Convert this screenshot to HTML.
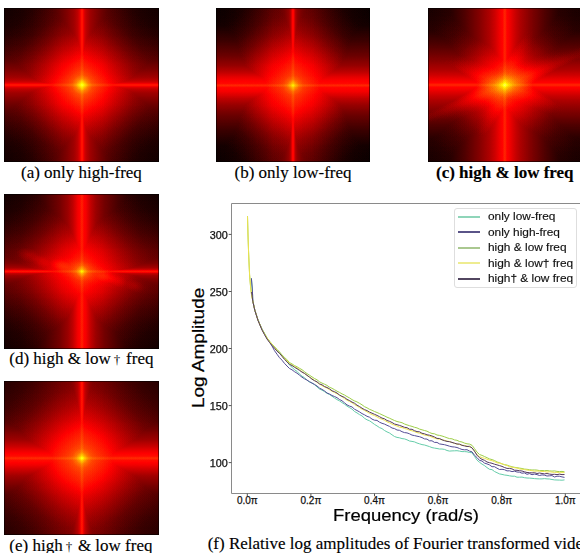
<!DOCTYPE html><html><head><meta charset="utf-8"><style>
*{margin:0;padding:0;box-sizing:border-box}
html,body{width:580px;height:553px;overflow:hidden;background:#fff}
body{position:relative}
.hm{position:absolute;overflow:hidden;background:#000}
.hm::after{content:'';position:absolute;inset:0;box-shadow:inset 0 0 0 1px rgba(0,0,0,0.55)}
.fld{position:absolute;inset:0;filter:url(#hot);isolation:isolate;background:#000}
.l{position:absolute;inset:0;mix-blend-mode:screen;mix-blend-mode:plus-lighter}
.nat{position:absolute;inset:0;isolation:isolate}
.m{position:absolute;inset:0;mix-blend-mode:lighten}
.cap{position:absolute;font-family:"Liberation Serif",serif;font-size:17px;color:#000;-webkit-text-stroke:0.15px #000;white-space:nowrap;line-height:19px}
.dg{font-size:13px;margin:0 1.5px 0 3px;-webkit-text-stroke:0}
.tk{position:absolute;font-family:"Liberation Sans",sans-serif;font-size:10px;color:#111;-webkit-text-stroke:0.25px #111;white-space:nowrap;line-height:12px}
.lg{position:absolute;font-family:"Liberation Sans",sans-serif;font-size:11px;color:#111;-webkit-text-stroke:0.15px #111;white-space:nowrap;line-height:12px;transform-origin:0 50%;transform:scaleX(1.08)}
</style></head><body>
<svg width="0" height="0" style="position:absolute"><defs>
<filter id="hot" color-interpolation-filters="sRGB" x="0" y="0" width="100%" height="100%">
<feComponentTransfer>
<feFuncR type="table" tableValues="0 0.3333 0.6667 1 1 1 1 1 1"/>
<feFuncG type="table" tableValues="0 0 0 0 0.3333 0.6667 1 1 1"/>
<feFuncB type="table" tableValues="0 0 0 0 0 0 0 0.5 1"/>
</feComponentTransfer>
</filter></defs></svg>
<div class="hm" style="left:4px;top:8px;width:155px;height:153.5px">
<div class="fld"><div class="nat" style="background:rgb(7,7,7)">
<div class="l" style="background:linear-gradient(to bottom, rgb(0,0,0) -3.00px, rgb(1,1,1) 7.00px, rgb(3,3,3) 17.00px, rgb(7,7,7) 27.00px, rgb(13,13,13) 37.00px, rgb(20,20,20) 47.00px, rgb(28,28,28) 57.00px, rgb(33,33,33) 67.00px, rgb(37,37,37) 72.00px, rgb(40,40,40) 77.00px, rgb(37,37,37) 82.00px, rgb(33,33,33) 87.00px, rgb(28,28,28) 97.00px, rgb(20,20,20) 107.00px, rgb(13,13,13) 117.00px, rgb(7,7,7) 127.00px, rgb(3,3,3) 137.00px, rgb(1,1,1) 147.00px, rgb(0,0,0) 157.00px)"></div>
<div class="l" style="background:linear-gradient(to right, rgb(0,0,0) -2.00px, rgb(1,1,1) 8.00px, rgb(3,3,3) 18.00px, rgb(7,7,7) 28.00px, rgb(13,13,13) 38.00px, rgb(20,20,20) 48.00px, rgb(28,28,28) 58.00px, rgb(33,33,33) 68.00px, rgb(37,37,37) 73.00px, rgb(40,40,40) 78.00px, rgb(37,37,37) 83.00px, rgb(33,33,33) 88.00px, rgb(28,28,28) 98.00px, rgb(20,20,20) 108.00px, rgb(13,13,13) 118.00px, rgb(7,7,7) 128.00px, rgb(3,3,3) 138.00px, rgb(1,1,1) 148.00px, rgb(0,0,0) 158.00px)"></div>
<div class="l" style="background:radial-gradient(circle at 78px 77px, rgb(100,100,100) 0px, rgb(85,85,85) 3px, rgb(62,62,62) 6px, rgb(46,46,46) 10px, rgb(39,39,39) 15px, rgb(34,34,34) 20px, rgb(29,29,29) 28px, rgb(20,20,20) 40px, rgb(10,10,10) 55px, rgb(3,3,3) 70px, rgb(0,0,0) 90px)"></div>

</div>
<div class="m" style="background:linear-gradient(to bottom, rgb(0,0,0) 7.00px, rgb(5,5,5) 22.00px, rgb(16,16,16) 37.00px, rgb(34,34,34) 52.00px, rgb(48,48,48) 62.00px, rgb(60,60,60) 69.00px, rgb(72,72,72) 73.00px, rgb(84,84,84) 75.00px, rgb(92,92,92) 76.00px, rgb(96,96,96) 77.00px, rgb(92,92,92) 78.00px, rgb(84,84,84) 79.00px, rgb(72,72,72) 81.00px, rgb(60,60,60) 85.00px, rgb(48,48,48) 92.00px, rgb(34,34,34) 102.00px, rgb(16,16,16) 117.00px, rgb(5,5,5) 132.00px, rgb(0,0,0) 147.00px)"></div>
<div class="m" style="background:linear-gradient(to right, rgb(0,0,0) 8.00px, rgb(5,5,5) 23.00px, rgb(16,16,16) 38.00px, rgb(34,34,34) 53.00px, rgb(48,48,48) 63.00px, rgb(60,60,60) 70.00px, rgb(72,72,72) 74.00px, rgb(84,84,84) 76.00px, rgb(92,92,92) 77.00px, rgb(96,96,96) 78.00px, rgb(92,92,92) 79.00px, rgb(84,84,84) 80.00px, rgb(72,72,72) 82.00px, rgb(60,60,60) 86.00px, rgb(48,48,48) 93.00px, rgb(34,34,34) 103.00px, rgb(16,16,16) 118.00px, rgb(5,5,5) 133.00px, rgb(0,0,0) 148.00px)"></div>
<div class="l" style="background:linear-gradient(to bottom, rgb(0,0,0) 75.00px, rgb(6,6,6) 76.00px, rgb(10,10,10) 77.00px, rgb(6,6,6) 78.00px, rgb(0,0,0) 79.00px)"></div>
<div class="l" style="background:linear-gradient(to right, rgb(0,0,0) 76.00px, rgb(6,6,6) 77.00px, rgb(10,10,10) 78.00px, rgb(6,6,6) 79.00px, rgb(0,0,0) 80.00px)"></div>

</div></div>
<div class="hm" style="left:216px;top:8px;width:154px;height:153.5px">
<div class="fld"><div class="nat" style="background:rgb(4,4,4)">
<div class="l" style="background:linear-gradient(to bottom, rgb(0,0,0) -2.60px, rgb(1,1,1) 7.40px, rgb(3,3,3) 17.40px, rgb(7,7,7) 27.40px, rgb(13,13,13) 37.40px, rgb(20,20,20) 47.40px, rgb(28,28,28) 57.40px, rgb(33,33,33) 67.40px, rgb(37,37,37) 72.40px, rgb(40,40,40) 77.40px, rgb(37,37,37) 82.40px, rgb(33,33,33) 87.40px, rgb(28,28,28) 97.40px, rgb(20,20,20) 107.40px, rgb(13,13,13) 117.40px, rgb(7,7,7) 127.40px, rgb(3,3,3) 137.40px, rgb(1,1,1) 147.40px, rgb(0,0,0) 157.40px)"></div>
<div class="l" style="background:linear-gradient(to right, rgb(0,0,0) -3.00px, rgb(1,1,1) 7.00px, rgb(3,3,3) 17.00px, rgb(7,7,7) 27.00px, rgb(13,13,13) 37.00px, rgb(20,20,20) 47.00px, rgb(28,28,28) 57.00px, rgb(33,33,33) 67.00px, rgb(37,37,37) 72.00px, rgb(40,40,40) 77.00px, rgb(37,37,37) 82.00px, rgb(33,33,33) 87.00px, rgb(28,28,28) 97.00px, rgb(20,20,20) 107.00px, rgb(13,13,13) 117.00px, rgb(7,7,7) 127.00px, rgb(3,3,3) 137.00px, rgb(1,1,1) 147.00px, rgb(0,0,0) 157.00px)"></div>
<div class="l" style="background:radial-gradient(circle at 77px 77.4px, rgb(85,85,85) 0px, rgb(70,70,70) 3px, rgb(52,52,52) 6px, rgb(42,42,42) 10px, rgb(38,38,38) 15px, rgb(35,35,35) 20px, rgb(32,32,32) 28px, rgb(24,24,24) 40px, rgb(13,13,13) 55px, rgb(5,5,5) 70px, rgb(0,0,0) 90px)"></div>

</div>
<div class="m" style="background:linear-gradient(to bottom, rgb(0,0,0) 2.40px, rgb(8,8,8) 17.40px, rgb(22,22,22) 32.40px, rgb(40,40,40) 47.40px, rgb(56,56,56) 57.40px, rgb(72,72,72) 64.40px, rgb(84,84,84) 68.40px, rgb(92,92,92) 71.40px, rgb(96,96,96) 73.40px, rgb(98,98,98) 75.40px, rgb(100,100,100) 77.40px, rgb(98,98,98) 79.40px, rgb(96,96,96) 81.40px, rgb(92,92,92) 83.40px, rgb(84,84,84) 86.40px, rgb(72,72,72) 90.40px, rgb(56,56,56) 97.40px, rgb(40,40,40) 107.40px, rgb(22,22,22) 122.40px, rgb(8,8,8) 137.40px, rgb(0,0,0) 152.40px)"></div>
<div class="m" style="background:linear-gradient(to right, rgb(0,0,0) 7.00px, rgb(3,3,3) 22.00px, rgb(11,11,11) 37.00px, rgb(26,26,26) 52.00px, rgb(36,36,36) 62.00px, rgb(46,46,46) 69.00px, rgb(56,56,56) 73.00px, rgb(70,70,70) 75.00px, rgb(86,86,86) 76.00px, rgb(92,92,92) 77.00px, rgb(86,86,86) 78.00px, rgb(70,70,70) 79.00px, rgb(56,56,56) 81.00px, rgb(46,46,46) 85.00px, rgb(36,36,36) 92.00px, rgb(26,26,26) 102.00px, rgb(11,11,11) 117.00px, rgb(3,3,3) 132.00px, rgb(0,0,0) 147.00px)"></div>
<div class="l" style="background:linear-gradient(to bottom, rgb(0,0,0) 75.40px, rgb(6,6,6) 76.40px, rgb(10,10,10) 77.40px, rgb(6,6,6) 78.40px, rgb(0,0,0) 79.40px)"></div>
<div class="l" style="background:linear-gradient(to right, rgb(0,0,0) 75.00px, rgb(6,6,6) 76.00px, rgb(10,10,10) 77.00px, rgb(6,6,6) 78.00px, rgb(0,0,0) 79.00px)"></div>

</div></div>
<div class="hm" style="left:428px;top:8px;width:154px;height:153.5px">
<div class="fld"><div class="nat" style="background:rgb(5,5,5)">
<div class="l" style="background:linear-gradient(to bottom, rgb(0,0,0) -23.00px, rgb(2,2,2) -3.00px, rgb(3,3,3) 7.00px, rgb(6,6,6) 17.00px, rgb(9,9,9) 27.00px, rgb(14,14,14) 37.00px, rgb(20,20,20) 47.00px, rgb(27,27,27) 57.00px, rgb(33,33,33) 67.00px, rgb(37,37,37) 72.00px, rgb(40,40,40) 77.00px, rgb(37,37,37) 82.00px, rgb(33,33,33) 87.00px, rgb(27,27,27) 97.00px, rgb(20,20,20) 107.00px, rgb(14,14,14) 117.00px, rgb(9,9,9) 127.00px, rgb(6,6,6) 137.00px, rgb(3,3,3) 147.00px, rgb(2,2,2) 157.00px, rgb(0,0,0) 177.00px)"></div>
<div class="l" style="background:linear-gradient(to right, rgb(0,0,0) -23.20px, rgb(2,2,2) -3.20px, rgb(3,3,3) 6.80px, rgb(6,6,6) 16.80px, rgb(9,9,9) 26.80px, rgb(14,14,14) 36.80px, rgb(20,20,20) 46.80px, rgb(27,27,27) 56.80px, rgb(33,33,33) 66.80px, rgb(37,37,37) 71.80px, rgb(40,40,40) 76.80px, rgb(37,37,37) 81.80px, rgb(33,33,33) 86.80px, rgb(27,27,27) 96.80px, rgb(20,20,20) 106.80px, rgb(14,14,14) 116.80px, rgb(9,9,9) 126.80px, rgb(6,6,6) 136.80px, rgb(3,3,3) 146.80px, rgb(2,2,2) 156.80px, rgb(0,0,0) 176.80px)"></div>
<div class="l" style="background:radial-gradient(circle at 76.8px 77px, rgb(72,72,72) 0px, rgb(56,56,56) 3px, rgb(46,46,46) 6px, rgb(40,40,40) 10px, rgb(36,36,36) 15px, rgb(32,32,32) 20px, rgb(26,26,26) 28px, rgb(17,17,17) 40px, rgb(8,8,8) 55px, rgb(3,3,3) 70px, rgb(0,0,0) 90px)"></div>
<div class="l" style="inset:auto;left:-53.2px;top:47.0px;width:260px;height:60px;transform:rotate(-22deg);background:linear-gradient(to bottom, rgb(0,0,0) 16.00px, rgb(4,4,4) 20.00px, rgb(11,11,11) 24.00px, rgb(17,17,17) 27.00px, rgb(20,20,20) 30.00px, rgb(17,17,17) 33.00px, rgb(11,11,11) 36.00px, rgb(4,4,4) 40.00px, rgb(0,0,0) 44.00px)"></div><div class="l" style="inset:auto;left:-53.2px;top:47.0px;width:260px;height:60px;transform:rotate(20deg);background:linear-gradient(to bottom, rgb(0,0,0) 18.00px, rgb(4,4,4) 22.00px, rgb(9,9,9) 26.00px, rgb(12,12,12) 30.00px, rgb(9,9,9) 34.00px, rgb(4,4,4) 38.00px, rgb(0,0,0) 42.00px)"></div><div class="l" style="inset:auto;left:-53.2px;top:47.0px;width:260px;height:60px;transform:rotate(-68deg);background:linear-gradient(to bottom, rgb(0,0,0) 18.00px, rgb(2,2,2) 22.00px, rgb(6,6,6) 26.00px, rgb(8,8,8) 30.00px, rgb(6,6,6) 34.00px, rgb(2,2,2) 38.00px, rgb(0,0,0) 42.00px)"></div>
</div>
<div class="m" style="background:linear-gradient(to bottom, rgb(0,0,0) -8.00px, rgb(4,4,4) 7.00px, rgb(14,14,14) 22.00px, rgb(30,30,30) 37.00px, rgb(50,50,50) 52.00px, rgb(66,66,66) 62.00px, rgb(77,77,77) 67.00px, rgb(85,85,85) 70.00px, rgb(93,93,93) 73.00px, rgb(97,97,97) 75.00px, rgb(100,100,100) 77.00px, rgb(97,97,97) 79.00px, rgb(93,93,93) 81.00px, rgb(85,85,85) 84.00px, rgb(77,77,77) 87.00px, rgb(66,66,66) 92.00px, rgb(50,50,50) 102.00px, rgb(30,30,30) 117.00px, rgb(14,14,14) 132.00px, rgb(4,4,4) 147.00px, rgb(0,0,0) 162.00px)"></div>
<div class="m" style="background:linear-gradient(to right, rgb(0,0,0) -8.20px, rgb(4,4,4) 6.80px, rgb(14,14,14) 21.80px, rgb(30,30,30) 36.80px, rgb(50,50,50) 51.80px, rgb(66,66,66) 61.80px, rgb(77,77,77) 66.80px, rgb(85,85,85) 69.80px, rgb(93,93,93) 72.80px, rgb(97,97,97) 74.80px, rgb(100,100,100) 76.80px, rgb(97,97,97) 78.80px, rgb(93,93,93) 80.80px, rgb(85,85,85) 83.80px, rgb(77,77,77) 86.80px, rgb(66,66,66) 91.80px, rgb(50,50,50) 101.80px, rgb(30,30,30) 116.80px, rgb(14,14,14) 131.80px, rgb(4,4,4) 146.80px, rgb(0,0,0) 161.80px)"></div>
<div class="l" style="background:linear-gradient(to bottom, rgb(0,0,0) 75.00px, rgb(6,6,6) 76.00px, rgb(10,10,10) 77.00px, rgb(6,6,6) 78.00px, rgb(0,0,0) 79.00px)"></div>
<div class="l" style="background:linear-gradient(to right, rgb(0,0,0) 74.80px, rgb(6,6,6) 75.80px, rgb(10,10,10) 76.80px, rgb(6,6,6) 77.80px, rgb(0,0,0) 78.80px)"></div>

</div></div>
<div class="hm" style="left:4px;top:194px;width:155px;height:154.5px">
<div class="fld"><div class="nat" style="background:rgb(6,6,6)">
<div class="l" style="background:linear-gradient(to bottom, rgb(0,0,0) -2.60px, rgb(2,2,2) 7.40px, rgb(4,4,4) 17.40px, rgb(8,8,8) 27.40px, rgb(13,13,13) 37.40px, rgb(19,19,19) 47.40px, rgb(26,26,26) 57.40px, rgb(31,31,31) 67.40px, rgb(35,35,35) 72.40px, rgb(38,38,38) 77.40px, rgb(35,35,35) 82.40px, rgb(31,31,31) 87.40px, rgb(26,26,26) 97.40px, rgb(19,19,19) 107.40px, rgb(13,13,13) 117.40px, rgb(8,8,8) 127.40px, rgb(4,4,4) 137.40px, rgb(2,2,2) 147.40px, rgb(0,0,0) 157.40px)"></div>
<div class="l" style="background:linear-gradient(to right, rgb(0,0,0) -2.10px, rgb(2,2,2) 7.90px, rgb(4,4,4) 17.90px, rgb(8,8,8) 27.90px, rgb(13,13,13) 37.90px, rgb(19,19,19) 47.90px, rgb(26,26,26) 57.90px, rgb(31,31,31) 67.90px, rgb(35,35,35) 72.90px, rgb(38,38,38) 77.90px, rgb(35,35,35) 82.90px, rgb(31,31,31) 87.90px, rgb(26,26,26) 97.90px, rgb(19,19,19) 107.90px, rgb(13,13,13) 117.90px, rgb(8,8,8) 127.90px, rgb(4,4,4) 137.90px, rgb(2,2,2) 147.90px, rgb(0,0,0) 157.90px)"></div>
<div class="l" style="background:radial-gradient(circle at 77.9px 77.4px, rgb(85,85,85) 0px, rgb(64,64,64) 3px, rgb(46,46,46) 6px, rgb(38,38,38) 10px, rgb(33,33,33) 15px, rgb(30,30,30) 20px, rgb(26,26,26) 28px, rgb(18,18,18) 40px, rgb(9,9,9) 55px, rgb(3,3,3) 70px, rgb(0,0,0) 90px)"></div>
<div class="l" style="inset:auto;left:5.900000000000006px;top:67.4px;width:144px;height:20px;transform:rotate(16deg);background:radial-gradient(ellipse closest-side, rgb(6,6,6) 0%, rgb(4,4,4) 45%, rgb(0,0,0) 100%)"></div><div class="l" style="inset:auto;left:12px;top:54px;width:24px;height:14px;transform:rotate(16deg);background:radial-gradient(ellipse closest-side, rgb(12,12,12) 0%, rgb(7,7,7) 45%, rgb(0,0,0) 100%)"></div><div class="l" style="inset:auto;left:27.4px;top:60.8px;width:20px;height:12px;transform:rotate(16deg);background:radial-gradient(ellipse closest-side, rgb(10,10,10) 0%, rgb(6,6,6) 45%, rgb(0,0,0) 100%)"></div><div class="l" style="inset:auto;left:45px;top:64.8px;width:22px;height:12px;transform:rotate(16deg);background:radial-gradient(ellipse closest-side, rgb(11,11,11) 0%, rgb(7,7,7) 45%, rgb(0,0,0) 100%)"></div><div class="l" style="inset:auto;left:90.6px;top:76.8px;width:22px;height:12px;transform:rotate(16deg);background:radial-gradient(ellipse closest-side, rgb(11,11,11) 0%, rgb(7,7,7) 45%, rgb(0,0,0) 100%)"></div><div class="l" style="inset:auto;left:104px;top:80.8px;width:20px;height:12px;transform:rotate(16deg);background:radial-gradient(ellipse closest-side, rgb(10,10,10) 0%, rgb(6,6,6) 45%, rgb(0,0,0) 100%)"></div><div class="l" style="inset:auto;left:121px;top:86px;width:20px;height:12px;transform:rotate(16deg);background:radial-gradient(ellipse closest-side, rgb(9,9,9) 0%, rgb(5,5,5) 45%, rgb(0,0,0) 100%)"></div>
</div>
<div class="m" style="background:linear-gradient(to bottom, rgb(0,0,0) 7.40px, rgb(3,3,3) 22.40px, rgb(10,10,10) 37.40px, rgb(24,24,24) 52.40px, rgb(36,36,36) 62.40px, rgb(48,48,48) 69.40px, rgb(60,60,60) 73.40px, rgb(74,74,74) 75.40px, rgb(88,88,88) 76.40px, rgb(94,94,94) 77.40px, rgb(88,88,88) 78.40px, rgb(74,74,74) 79.40px, rgb(60,60,60) 81.40px, rgb(48,48,48) 85.40px, rgb(36,36,36) 92.40px, rgb(24,24,24) 102.40px, rgb(10,10,10) 117.40px, rgb(3,3,3) 132.40px, rgb(0,0,0) 147.40px)"></div>
<div class="m" style="background:linear-gradient(to right, rgb(0,0,0) 2.90px, rgb(3,3,3) 12.90px, rgb(12,12,12) 27.90px, rgb(28,28,28) 42.90px, rgb(44,44,44) 55.90px, rgb(58,58,58) 63.90px, rgb(72,72,72) 68.90px, rgb(84,84,84) 71.90px, rgb(92,92,92) 73.90px, rgb(96,96,96) 75.90px, rgb(98,98,98) 77.90px, rgb(96,96,96) 79.90px, rgb(92,92,92) 81.90px, rgb(84,84,84) 83.90px, rgb(72,72,72) 86.90px, rgb(58,58,58) 91.90px, rgb(44,44,44) 99.90px, rgb(28,28,28) 112.90px, rgb(12,12,12) 127.90px, rgb(3,3,3) 142.90px, rgb(0,0,0) 152.90px)"></div>
<div class="l" style="background:linear-gradient(to bottom, rgb(0,0,0) 75.40px, rgb(6,6,6) 76.40px, rgb(10,10,10) 77.40px, rgb(6,6,6) 78.40px, rgb(0,0,0) 79.40px)"></div>
<div class="l" style="background:linear-gradient(to right, rgb(0,0,0) 75.90px, rgb(6,6,6) 76.90px, rgb(10,10,10) 77.90px, rgb(6,6,6) 78.90px, rgb(0,0,0) 79.90px)"></div>

</div></div>
<div class="hm" style="left:4px;top:381px;width:155px;height:153.5px">
<div class="fld"><div class="nat" style="background:rgb(8,8,8)">
<div class="l" style="background:linear-gradient(to bottom, rgb(0,0,0) -22.80px, rgb(3,3,3) -2.80px, rgb(5,5,5) 7.20px, rgb(8,8,8) 17.20px, rgb(12,12,12) 27.20px, rgb(17,17,17) 37.20px, rgb(23,23,23) 47.20px, rgb(29,29,29) 57.20px, rgb(34,34,34) 67.20px, rgb(37,37,37) 72.20px, rgb(40,40,40) 77.20px, rgb(37,37,37) 82.20px, rgb(34,34,34) 87.20px, rgb(29,29,29) 97.20px, rgb(23,23,23) 107.20px, rgb(17,17,17) 117.20px, rgb(12,12,12) 127.20px, rgb(8,8,8) 137.20px, rgb(5,5,5) 147.20px, rgb(3,3,3) 157.20px, rgb(0,0,0) 177.20px)"></div>
<div class="l" style="background:linear-gradient(to right, rgb(0,0,0) -22.10px, rgb(3,3,3) -2.10px, rgb(5,5,5) 7.90px, rgb(8,8,8) 17.90px, rgb(12,12,12) 27.90px, rgb(17,17,17) 37.90px, rgb(23,23,23) 47.90px, rgb(29,29,29) 57.90px, rgb(34,34,34) 67.90px, rgb(37,37,37) 72.90px, rgb(40,40,40) 77.90px, rgb(37,37,37) 82.90px, rgb(34,34,34) 87.90px, rgb(29,29,29) 97.90px, rgb(23,23,23) 107.90px, rgb(17,17,17) 117.90px, rgb(12,12,12) 127.90px, rgb(8,8,8) 137.90px, rgb(5,5,5) 147.90px, rgb(3,3,3) 157.90px, rgb(0,0,0) 177.90px)"></div>
<div class="l" style="background:radial-gradient(circle at 77.9px 77.2px, rgb(95,95,95) 0px, rgb(75,75,75) 3px, rgb(55,55,55) 6px, rgb(43,43,43) 10px, rgb(38,38,38) 15px, rgb(35,35,35) 20px, rgb(31,31,31) 28px, rgb(22,22,22) 40px, rgb(12,12,12) 55px, rgb(4,4,4) 70px, rgb(0,0,0) 90px)"></div>

</div>
<div class="m" style="background:linear-gradient(to bottom, rgb(0,0,0) 7.20px, rgb(11,11,11) 22.20px, rgb(27,27,27) 37.20px, rgb(44,44,44) 49.20px, rgb(60,60,60) 59.20px, rgb(78,78,78) 66.20px, rgb(90,90,90) 70.20px, rgb(97,97,97) 73.20px, rgb(100,100,100) 75.20px, rgb(102,102,102) 77.20px, rgb(100,100,100) 79.20px, rgb(97,97,97) 81.20px, rgb(90,90,90) 84.20px, rgb(78,78,78) 88.20px, rgb(60,60,60) 95.20px, rgb(44,44,44) 105.20px, rgb(27,27,27) 117.20px, rgb(11,11,11) 132.20px, rgb(0,0,0) 147.20px)"></div>
<div class="m" style="background:linear-gradient(to right, rgb(0,0,0) 7.90px, rgb(3,3,3) 22.90px, rgb(12,12,12) 37.90px, rgb(28,28,28) 52.90px, rgb(40,40,40) 62.90px, rgb(54,54,54) 69.90px, rgb(68,68,68) 73.90px, rgb(82,82,82) 75.90px, rgb(92,92,92) 76.90px, rgb(96,96,96) 77.90px, rgb(92,92,92) 78.90px, rgb(82,82,82) 79.90px, rgb(68,68,68) 81.90px, rgb(54,54,54) 85.90px, rgb(40,40,40) 92.90px, rgb(28,28,28) 102.90px, rgb(12,12,12) 117.90px, rgb(3,3,3) 132.90px, rgb(0,0,0) 147.90px)"></div>
<div class="l" style="background:linear-gradient(to bottom, rgb(0,0,0) 75.20px, rgb(6,6,6) 76.20px, rgb(10,10,10) 77.20px, rgb(6,6,6) 78.20px, rgb(0,0,0) 79.20px)"></div>
<div class="l" style="background:linear-gradient(to right, rgb(0,0,0) 75.90px, rgb(6,6,6) 76.90px, rgb(10,10,10) 77.90px, rgb(6,6,6) 78.90px, rgb(0,0,0) 79.90px)"></div>

</div></div>
<div class="cap" style="left:21px;top:163px;">(a) only high-freq</div>
<div class="cap" style="left:234.5px;top:163px;">(b) only low-freq</div>
<div class="cap" style="left:436px;top:163px;font-weight:bold">(c) high &amp; low freq</div>
<div class="cap" style="left:9.3px;top:348.5px;">(d) high &amp; low<span class=dg>†</span> freq</div>
<div class="cap" style="left:9.3px;top:535.5px;">(e) high<span class=dg>†</span> &amp; low freq</div>
<div class="cap" style="left:207.7px;top:534.3px;">(f) Relative log amplitudes of Fourier transformed videos</div>
<svg width="580" height="553" style="position:absolute;left:0;top:0">
<path d="M231.5 203.5 H580 M231.5 203.5 V493.5 H580" stroke="#8a8a8a" stroke-width="1" fill="none"/>
<path d="M228.7 462.6 H231.5" stroke="#555" stroke-width="1"/>
<path d="M228.7 405.6 H231.5" stroke="#555" stroke-width="1"/>
<path d="M228.7 348.5 H231.5" stroke="#555" stroke-width="1"/>
<path d="M228.7 291.5 H231.5" stroke="#555" stroke-width="1"/>
<path d="M228.7 234.4 H231.5" stroke="#555" stroke-width="1"/>
<path d="M247.3 493.5 V496.3" stroke="#555" stroke-width="1"/>
<path d="M310.9 493.5 V496.3" stroke="#555" stroke-width="1"/>
<path d="M374.5 493.5 V496.3" stroke="#555" stroke-width="1"/>
<path d="M438.1 493.5 V496.3" stroke="#555" stroke-width="1"/>
<path d="M501.7 493.5 V496.3" stroke="#555" stroke-width="1"/>
<path d="M565.3 493.5 V496.3" stroke="#555" stroke-width="1"/>
<polyline points="251.4,278.3 252.2,288.0 252.6,295.0 252.8,301.0 254.8,310.0 258.0,320.0 262.0,329.3 264.5,333.3 267.0,338.1 269.5,341.5 272.0,344.0 274.5,347.2 277.0,350.0 279.5,353.0 282.0,355.9 284.5,358.1 287.0,361.2 289.5,365.1 292.0,367.2 294.5,369.8 297.0,371.3 299.5,374.0 302.0,376.2 304.5,377.6 307.0,380.2 309.5,382.0 312.0,383.0 314.5,384.7 317.0,386.9 319.5,389.0 322.0,390.1 324.5,391.6 327.0,393.3 329.5,394.5 332.0,396.2 334.5,398.0 337.0,399.6 339.5,400.9 342.0,402.6 344.5,404.2 347.0,406.1 349.5,407.6 352.0,409.1 354.5,411.5 357.0,412.9 359.5,414.6 362.0,415.9 364.5,418.3 367.0,419.8 369.5,420.8 372.0,422.5 374.5,424.4 377.0,425.9 379.5,427.6 382.0,428.6 384.5,430.5 387.0,431.9 389.5,433.0 392.0,434.8 394.5,436.5 397.0,437.4 399.5,437.8 402.0,438.6 404.5,438.9 407.0,439.8 409.5,441.0 412.0,441.4 414.5,441.9 417.0,443.0 419.5,443.8 422.0,444.6 424.5,445.0 427.0,445.8 429.5,446.6 432.0,447.6 434.5,448.1 437.0,448.5 439.5,449.0 442.0,449.0 444.5,449.4 447.0,450.5 449.5,451.1 452.0,450.9 454.5,450.8 457.0,450.7 459.5,451.1 462.0,451.6 464.5,451.6 467.0,451.8 469.5,452.5 472.0,452.7 474.5,456.4 477.0,460.1 479.5,462.3 482.0,464.1 484.5,465.6 487.0,467.6 489.5,469.3 492.0,469.6 494.5,471.5 497.0,472.7 499.5,473.9 502.0,474.4 504.5,475.0 507.0,475.3 509.5,475.8 512.0,476.2 514.5,476.2 517.0,477.2 519.5,477.2 522.0,477.1 524.5,477.7 527.0,478.0 529.5,478.1 532.0,478.3 534.5,478.6 537.0,478.8 539.5,478.9 542.0,478.9 544.5,478.6 547.0,478.9 549.5,479.0 552.0,479.5 554.5,479.9 557.0,480.0 559.5,480.1 562.0,480.2 564.5,479.9" fill="none" stroke="#66cdaa" stroke-width="1.0" stroke-linejoin="round"/>
<polyline points="251.4,278.3 252.2,288.0 252.6,295.0 252.8,301.0 254.8,310.0 258.0,320.0 262.0,329.3 264.5,334.2 267.0,338.4 269.5,341.6 272.0,346.0 274.5,350.7 277.0,354.2 279.5,357.7 282.0,360.2 284.5,363.4 287.0,366.0 289.5,368.5 292.0,369.8 294.5,371.7 297.0,373.2 299.5,375.2 302.0,377.2 304.5,378.8 307.0,380.1 309.5,381.7 312.0,383.1 314.5,384.4 317.0,386.0 319.5,388.1 322.0,389.4 324.5,390.9 327.0,393.0 329.5,394.0 332.0,395.5 334.5,396.5 337.0,397.7 339.5,399.5 342.0,400.8 344.5,402.8 347.0,404.9 349.5,406.1 352.0,406.9 354.5,409.2 357.0,410.5 359.5,411.9 362.0,413.6 364.5,414.8 367.0,416.3 369.5,417.2 372.0,419.1 374.5,420.2 377.0,420.4 379.5,422.2 382.0,423.3 384.5,424.1 387.0,425.3 389.5,426.4 392.0,428.0 394.5,428.6 397.0,430.0 399.5,430.3 402.0,431.7 404.5,432.6 407.0,432.9 409.5,433.8 412.0,435.1 414.5,435.6 417.0,436.2 419.5,436.7 422.0,437.6 424.5,438.9 427.0,439.1 429.5,440.8 432.0,440.8 434.5,442.4 437.0,442.4 439.5,443.9 442.0,444.3 444.5,444.7 447.0,445.4 449.5,446.2 452.0,446.8 454.5,447.0 457.0,447.5 459.5,448.5 462.0,449.5 464.5,449.8 467.0,449.7 469.5,451.1 472.0,451.8 474.5,455.3 477.0,457.6 479.5,460.4 482.0,461.0 484.5,463.1 487.0,463.9 489.5,464.9 492.0,466.7 494.5,466.7 497.0,468.2 499.5,469.5 502.0,469.3 504.5,469.7 507.0,470.9 509.5,470.8 512.0,471.6 514.5,471.2 517.0,472.0 519.5,472.2 522.0,473.2 524.5,472.9 527.0,474.3 529.5,473.6 532.0,474.7 534.5,474.1 537.0,474.6 539.5,475.5 542.0,474.9 544.5,475.2 547.0,476.0 549.5,475.8 552.0,475.6 554.5,477.0 557.0,476.2 559.5,476.3 562.0,476.9 564.5,477.4" fill="none" stroke="#554e96" stroke-width="1.0" stroke-linejoin="round"/>
<polyline points="247.5,216.2 248.0,235.0 248.5,250.0 249.0,262.0 249.6,275.0 250.6,287.0 251.6,295.0 252.8,301.0 254.8,310.0 258.0,320.0 262.0,329.3 264.5,333.5 267.0,337.9 269.5,341.1 272.0,344.1 274.5,346.9 277.0,349.3 279.5,351.9 282.0,355.0 284.5,357.3 287.0,359.8 289.5,362.6 292.0,363.9 294.5,365.6 297.0,366.8 299.5,368.3 302.0,369.7 304.5,371.7 307.0,373.6 309.5,375.2 312.0,376.9 314.5,378.5 317.0,379.8 319.5,381.8 322.0,383.1 324.5,384.2 327.0,385.4 329.5,387.2 332.0,388.3 334.5,389.7 337.0,391.2 339.5,392.4 342.0,393.9 344.5,395.0 347.0,396.6 349.5,397.9 352.0,399.6 354.5,400.9 357.0,401.9 359.5,403.3 362.0,404.8 364.5,406.7 367.0,407.8 369.5,409.3 372.0,410.3 374.5,411.5 377.0,412.5 379.5,413.6 382.0,414.8 384.5,415.9 387.0,417.2 389.5,418.2 392.0,419.4 394.5,420.5 397.0,421.5 399.5,422.1 402.0,422.7 404.5,424.0 407.0,424.9 409.5,425.7 412.0,426.4 414.5,427.3 417.0,427.9 419.5,429.1 422.0,429.8 424.5,430.5 427.0,431.2 429.5,432.5 432.0,433.5 434.5,433.8 437.0,435.0 439.5,435.4 442.0,436.0 444.5,436.8 447.0,437.8 449.5,438.6 452.0,438.8 454.5,439.9 457.0,440.3 459.5,441.5 462.0,442.0 464.5,443.1 467.0,443.8 469.5,444.1 472.0,445.3 474.5,448.6 477.0,452.1 479.5,454.5 482.0,455.4 484.5,456.5 487.0,457.7 489.5,458.9 492.0,459.6 494.5,460.5 497.0,462.0 499.5,462.7 502.0,463.9 504.5,464.7 507.0,465.1 509.5,466.0 512.0,466.8 514.5,467.3 517.0,467.7 519.5,468.1 522.0,468.5 524.5,469.1 527.0,469.3 529.5,469.7 532.0,470.0 534.5,469.9 537.0,470.1 539.5,470.6 542.0,470.5 544.5,470.7 547.0,470.5 549.5,470.9 552.0,471.1 554.5,470.9 557.0,471.4 559.5,471.6 562.0,471.4 564.5,471.8" fill="none" stroke="#9fcf4a" stroke-width="1.0" stroke-linejoin="round"/>
<polyline points="247.5,216.2 248.0,235.0 248.5,250.0 249.0,262.0 249.6,275.1 250.6,287.1 251.6,295.1 252.8,301.1 254.8,310.2 258.0,320.3 262.0,329.7 264.5,333.9 267.0,338.1 269.5,341.7 272.0,344.4 274.5,347.3 277.0,350.3 279.5,353.3 282.0,356.0 284.5,358.6 287.0,360.8 289.5,363.5 292.0,365.1 294.5,366.5 297.0,368.0 299.5,369.5 302.0,371.7 304.5,373.5 307.0,375.4 309.5,377.2 312.0,378.6 314.5,380.4 317.0,382.3 319.5,384.1 322.0,385.6 324.5,387.1 327.0,388.0 329.5,389.7 332.0,391.2 334.5,392.5 337.0,393.7 339.5,395.3 342.0,396.6 344.5,398.6 347.0,400.1 349.5,401.4 352.0,402.7 354.5,404.6 357.0,405.9 359.5,407.6 362.0,409.1 364.5,410.4 367.0,411.8 369.5,413.4 372.0,414.6 374.5,415.6 377.0,416.9 379.5,418.4 382.0,419.1 384.5,420.3 387.0,421.8 389.5,422.8 392.0,424.1 394.5,425.2 397.0,426.0 399.5,427.2 402.0,427.5 404.5,428.5 407.0,429.1 409.5,430.2 412.0,430.8 414.5,431.6 417.0,432.6 419.5,433.2 422.0,434.1 424.5,435.1 427.0,435.4 429.5,436.2 432.0,437.1 434.5,438.2 437.0,438.8 439.5,439.2 442.0,439.8 444.5,440.3 447.0,441.1 449.5,441.5 452.0,442.5 454.5,443.3 457.0,444.0 459.5,444.5 462.0,445.3 464.5,445.4 467.0,446.1 469.5,447.0 472.0,447.7 474.5,451.0 477.0,454.8 479.5,456.5 482.0,457.7 484.5,458.3 487.0,459.2 489.5,460.1 492.0,460.7 494.5,461.7 497.0,462.8 499.5,463.2 502.0,463.8 504.5,464.7 507.0,465.5 509.5,466.7 512.0,467.2 514.5,467.7 517.0,468.0 519.5,469.0 522.0,469.2 524.5,469.6 527.0,470.0 529.5,470.4 532.0,470.7 534.5,471.2 537.0,471.0 539.5,471.1 542.0,471.5 544.5,471.5 547.0,472.1 549.5,471.7 552.0,472.1 554.5,472.4 557.0,472.3 559.5,472.8 562.0,472.6 564.5,472.6" fill="none" stroke="#eee450" stroke-width="1.0" stroke-linejoin="round"/>
<polyline points="251.6,292.0 252.0,295.0 252.8,301.3 254.8,310.4 258.0,320.5 262.0,330.0 264.5,334.6 267.0,339.0 269.5,342.5 272.0,345.5 274.5,348.2 277.0,351.2 279.5,353.2 282.0,356.3 284.5,359.4 287.0,361.8 289.5,364.4 292.0,365.5 294.5,367.3 297.0,368.7 299.5,370.4 302.0,372.1 304.5,373.4 307.0,375.3 309.5,377.1 312.0,379.2 314.5,380.7 317.0,381.8 319.5,383.9 322.0,384.8 324.5,386.5 327.0,387.5 329.5,388.8 332.0,390.8 334.5,391.7 337.0,393.0 339.5,395.0 342.0,396.4 344.5,397.4 347.0,399.4 349.5,400.5 352.0,402.1 354.5,403.2 357.0,405.2 359.5,406.5 362.0,408.2 364.5,409.6 367.0,410.6 369.5,412.1 372.0,413.2 374.5,414.3 377.0,415.4 379.5,416.7 382.0,418.1 384.5,418.8 387.0,420.5 389.5,421.3 392.0,422.5 394.5,424.0 397.0,424.7 399.5,425.4 402.0,426.3 404.5,427.3 407.0,427.7 409.5,429.2 412.0,429.3 414.5,430.7 417.0,431.6 419.5,431.8 422.0,433.3 424.5,433.8 427.0,434.8 429.5,435.2 432.0,436.0 434.5,437.0 437.0,438.4 439.5,438.5 442.0,439.8 444.5,440.7 447.0,441.4 449.5,441.7 452.0,442.4 454.5,443.2 457.0,444.0 459.5,444.1 462.0,445.3 464.5,445.9 467.0,446.5 469.5,446.3 472.0,447.9 474.5,451.2 477.0,455.2 479.5,457.7 482.0,459.4 484.5,460.3 487.0,462.0 489.5,462.7 492.0,463.3 494.5,464.2 497.0,464.9 499.5,465.6 502.0,466.4 504.5,467.5 507.0,468.4 509.5,468.4 512.0,468.9 514.5,470.2 517.0,470.3 519.5,470.7 522.0,471.0 524.5,471.8 527.0,472.5 529.5,472.7 532.0,472.9 534.5,472.7 537.0,473.5 539.5,473.0 542.0,473.5 544.5,473.9 547.0,473.5 549.5,474.1 552.0,474.4 554.5,474.3 557.0,474.6 559.5,474.2 562.0,474.6 564.5,474.5" fill="none" stroke="#553a60" stroke-width="1.0" stroke-linejoin="round"/>
</svg>
<div class="tk" style="right:352.7px;top:458.1px;transform-origin:100% 50%;transform:scaleX(1.08)">100</div>
<div class="tk" style="right:352.7px;top:401.1px;transform-origin:100% 50%;transform:scaleX(1.08)">150</div>
<div class="tk" style="right:352.7px;top:344.0px;transform-origin:100% 50%;transform:scaleX(1.08)">200</div>
<div class="tk" style="right:352.7px;top:287.0px;transform-origin:100% 50%;transform:scaleX(1.08)">250</div>
<div class="tk" style="right:352.7px;top:229.9px;transform-origin:100% 50%;transform:scaleX(1.08)">300</div>
<div class="tk" style="left:236.9px;top:495.0px;width:20.8px;text-align:center">0.0π</div>
<div class="tk" style="left:300.5px;top:495.0px;width:20.8px;text-align:center">0.2π</div>
<div class="tk" style="left:364.1px;top:495.0px;width:20.8px;text-align:center">0.4π</div>
<div class="tk" style="left:427.7px;top:495.0px;width:20.8px;text-align:center">0.6π</div>
<div class="tk" style="left:491.3px;top:495.0px;width:20.8px;text-align:center">0.8π</div>
<div class="tk" style="left:554.9px;top:495.0px;width:20.8px;text-align:center">1.0π</div>
<div style="position:absolute;left:333.2px;top:506px;font-family:'Liberation Sans',sans-serif;font-size:16.5px;line-height:19px;color:#000;-webkit-text-stroke:0.2px #000;white-space:nowrap;transform-origin:0 0;transform:scaleX(1.12)">Frequency (rad/s)</div>
<div style="position:absolute;left:189px;top:408.3px;font-family:'Liberation Sans',sans-serif;font-size:16.5px;line-height:19px;color:#000;-webkit-text-stroke:0.2px #000;white-space:nowrap;transform-origin:0 0;transform:rotate(-90deg) scaleX(1.15)">Log Amplitude</div>
<div style="position:absolute;left:453.8px;top:207.8px;width:123px;height:80.5px;border:1px solid #dedede;border-radius:3px;background:rgba(255,255,255,0.8)"></div>
<div style="position:absolute;left:458px;top:216px;width:22px;height:2px;background:#8fd5b9"></div>
<div class="lg" style="left:488px;top:210.3px">only low-freq</div>
<div style="position:absolute;left:458px;top:231px;width:22px;height:2px;background:#5a5488"></div>
<div class="lg" style="left:488px;top:225.8px">only high-freq</div>
<div style="position:absolute;left:458px;top:247px;width:22px;height:2px;background:#aac890"></div>
<div class="lg" style="left:488px;top:241.1px">high &amp; low freq</div>
<div style="position:absolute;left:458px;top:262px;width:22px;height:2px;background:#eeec90"></div>
<div class="lg" style="left:488px;top:256.6px">high &amp; low† freq</div>
<div style="position:absolute;left:458px;top:278px;width:22px;height:2px;background:#524660"></div>
<div class="lg" style="left:488px;top:272.2px">high† &amp; low freq</div>
</body></html>
